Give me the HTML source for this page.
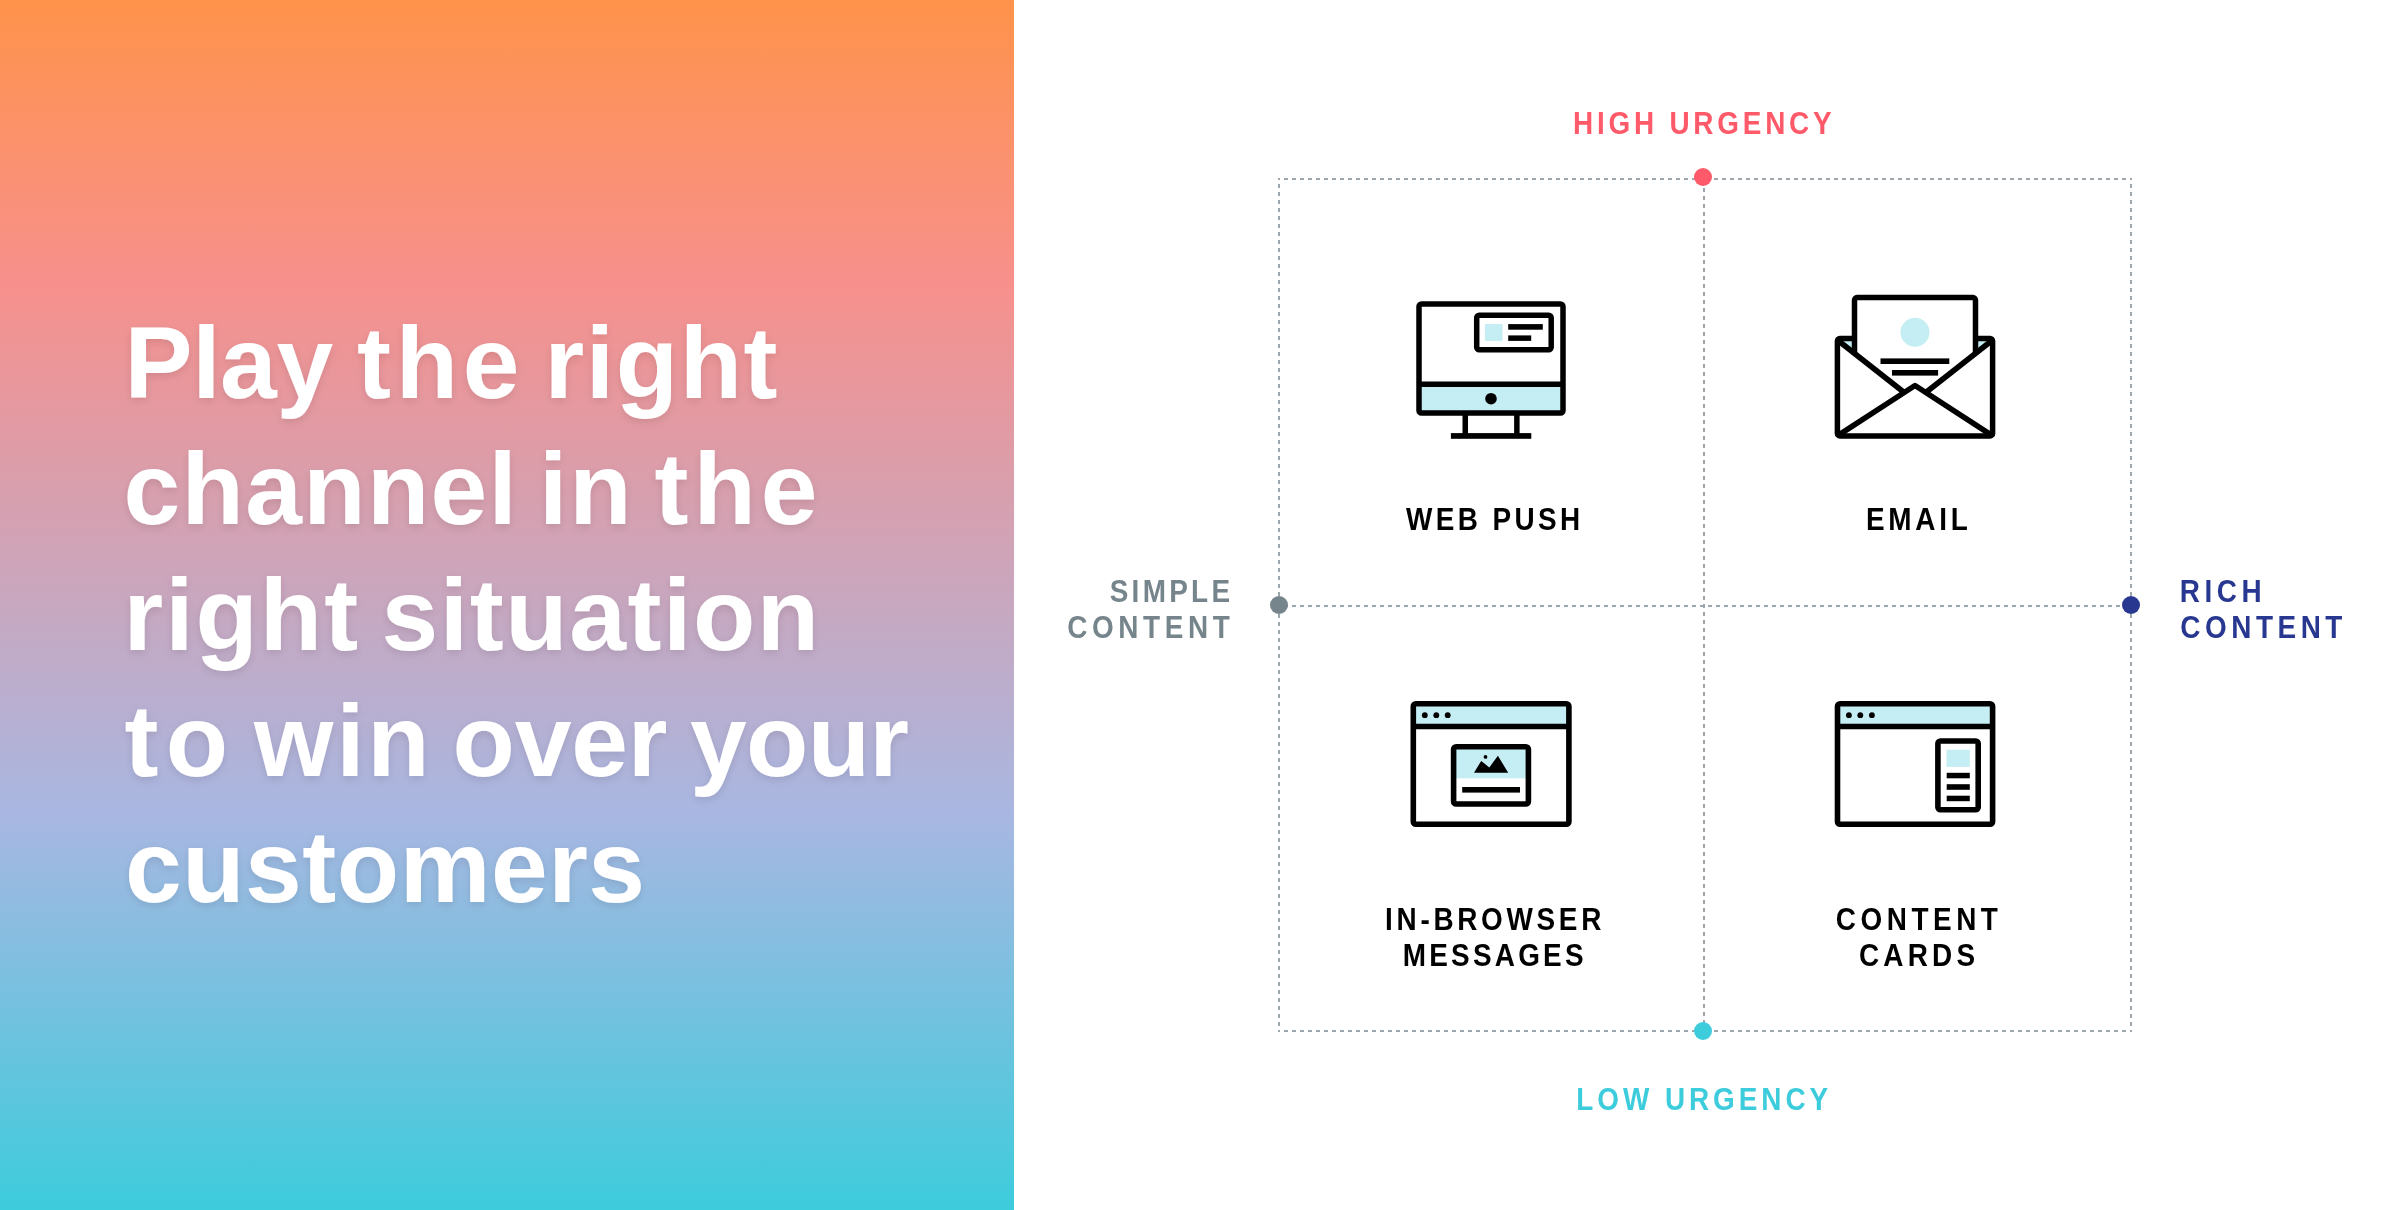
<!DOCTYPE html>
<html>
<head>
<meta charset="utf-8">
<style>
html,body{margin:0;padding:0;}
body{width:2400px;height:1210px;overflow:hidden;background:#fff;position:relative;font-family:"Liberation Sans",sans-serif;}
#left{position:absolute;left:0;top:0;width:1014px;height:1210px;background:linear-gradient(180deg,#FF934B 0%,#F7908C 23.5%,#A8B7E2 67.4%,#3DCCDC 100%);}
svg{position:absolute;left:0;top:0;}
</style>
</head>
<body>
<div id="left"></div>
<svg width="2400" height="1210" viewBox="0 0 2400 1210">
 <defs>
  <filter id="sh" x="-10%" y="-30%" width="120%" height="160%">
   <feGaussianBlur in="SourceAlpha" stdDeviation="4"/>
   <feOffset dy="3"/>
   <feComponentTransfer><feFuncA type="linear" slope="0.11"/></feComponentTransfer>
   <feMerge><feMergeNode/><feMergeNode in="SourceGraphic"/></feMerge>
  </filter>
  <filter id="nf" x="-5%" y="-10%" width="110%" height="120%"><feOffset dx="0" dy="0"/></filter>
 </defs>
 <g font-family="Liberation Sans" font-weight="bold" font-size="102" filter="url(#sh)">
  <text x="124.50" y="398" letter-spacing="-0.400" fill="#fff">Play</text>
  <text x="357.00" y="398" letter-spacing="4.700" fill="#fff">the</text>
  <text x="544.50" y="398" letter-spacing="1.600" fill="#fff">right</text>
  <text x="123.50" y="524" letter-spacing="1.333" fill="#fff">channel</text>
  <text x="539.00" y="524" letter-spacing="2.000" fill="#fff">in</text>
  <text x="654.50" y="524" letter-spacing="5.000" fill="#fff">the</text>
  <text x="123.50" y="650" letter-spacing="2.000" fill="#fff">right</text>
  <text x="381.50" y="650" letter-spacing="1.575" fill="#fff">situation</text>
  <text x="124.50" y="776" letter-spacing="7.400" fill="#fff">to</text>
  <text x="254.00" y="776" letter-spacing="2.800" fill="#fff">win</text>
  <text x="452.50" y="776" letter-spacing="-0.133" fill="#fff">over</text>
  <text x="690.00" y="776" letter-spacing="-0.667" fill="#fff">your</text>
  <text x="125.00" y="902" letter-spacing="0.525" fill="#fff">customers</text>
 </g>
 <!-- grid lines -->
 <g stroke="#9BA6AD" stroke-width="2" stroke-dasharray="4 4" stroke-dashoffset="2" fill="none">
  <path d="M1278,179 H1704 M2132,179 H1704 M1278,1031 H1704 M2132,1031 H1704 M1278,606 H2132"/>
  <path d="M1279,178 V606 M1279,1032 V606 M2131,178 V606 M2131,1032 V606"/>
  <path d="M1704,178 V1032" stroke-dashoffset="6"/>
 </g>
 <circle cx="1703" cy="177" r="9" fill="#FF5A69"/>
 <circle cx="1279" cy="605" r="9" fill="#76858C"/>
 <circle cx="2131" cy="605" r="9" fill="#283891"/>
 <circle cx="1703" cy="1031" r="9" fill="#3DCCDC"/>

 <!-- icon: web push monitor -->
 <g id="ic1">
  <rect x="1419" y="384" width="144" height="29" fill="#C4EEF4"/>
  <rect x="1485" y="324.1" width="17.5" height="16.8" fill="#C4EEF4"/>
  <g fill="none" stroke="#000" stroke-width="5.5" stroke-linejoin="round">
   <rect x="1419" y="304" width="144" height="109" rx="2.5"/>
   <rect x="1476.7" y="315.2" width="74.5" height="34.6" rx="2.5"/>
   <line x1="1419" y1="384.2" x2="1563" y2="384.2"/>
   <line x1="1465.25" y1="413" x2="1465.25" y2="436"/>
   <line x1="1516.85" y1="413" x2="1516.85" y2="436"/>
  </g>
  <rect x="1450.9" y="433.1" width="80.4" height="5.7" fill="#000"/>
  <rect x="1508.2" y="324.1" width="34.6" height="5.6" fill="#000"/>
  <rect x="1508.2" y="335.4" width="23" height="5.5" fill="#000"/>
  <circle cx="1491" cy="398.7" r="5.8" fill="#000"/>
 </g>
 <!-- icon: email -->
 <g id="ic2">
  <polygon points="1837.4,338.5 1854.5,338.5 1854.5,353.7" fill="#C4EEF4"/>
  <polygon points="1992.6,338.5 1975.5,338.5 1975.5,353.7" fill="#C4EEF4"/>
  <circle cx="1915" cy="332.3" r="14.5" fill="#C4EEF4"/>
  <g fill="none" stroke="#000" stroke-width="5.5" stroke-linejoin="round">
   <path d="M1854.5,338.5 H1839.9 A2.5,2.5 0 0 0 1837.4,341 V433.4 A2.5,2.5 0 0 0 1839.9,435.9 H1990.1 A2.5,2.5 0 0 0 1992.6,433.4 V341 A2.5,2.5 0 0 0 1990.1,338.5 H1975.5"/>
   <path d="M1854.5,354.5 V300.1 A2.5,2.5 0 0 1 1857,297.6 H1973 A2.5,2.5 0 0 1 1975.5,300.1 V354.5"/>
   <path d="M1837.4,340 L1904.2,392.5"/>
   <path d="M1992.6,340 L1925.8,392.5"/>
   <path d="M1837.4,435.9 L1915,385.5 L1992.6,435.9"/>
  </g>
  <rect x="1880.5" y="358.4" width="68.8" height="5.6" fill="#000"/>
  <rect x="1892" y="370" width="46.1" height="5.6" fill="#000"/>
 </g>
 <!-- icon: in-browser -->
 <g id="ic3">
  <rect x="1413.3" y="703.7" width="155.6" height="22.8" fill="#C4EEF4"/>
  <rect x="1456" y="749" width="70" height="29.3" fill="#C4EEF4"/>
  <g fill="none" stroke="#000" stroke-width="5.6" stroke-linejoin="round">
   <rect x="1413.3" y="703.7" width="155.6" height="120.5" rx="2.5"/>
   <line x1="1413.3" y1="726.55" x2="1568.9" y2="726.55"/>
   <rect x="1453.6" y="746.7" width="74.8" height="57.3" rx="2.5"/>
  </g>
  <circle cx="1424.8" cy="715.2" r="2.9" fill="#000"/>
  <circle cx="1436.3" cy="715.2" r="2.9" fill="#000"/>
  <circle cx="1447.7" cy="715.2" r="2.9" fill="#000"/>
  <polygon points="1474,772.8 1481.2,760.9 1489.3,767.5 1497.9,755.7 1508.2,772.8" fill="#000"/>
  <circle cx="1485.5" cy="756.9" r="1.9" fill="#000"/>
  <rect x="1462.2" y="787" width="57.8" height="5.6" fill="#000"/>
 </g>
 <!-- icon: content cards -->
 <g id="ic4">
  <rect x="1837.5" y="703.7" width="155.1" height="22.8" fill="#C4EEF4"/>
  <rect x="1946.5" y="749.75" width="23.3" height="17.15" fill="#C4EEF4"/>
  <g fill="none" stroke="#000" stroke-width="5.6" stroke-linejoin="round">
   <rect x="1837.5" y="703.7" width="155.1" height="120.5" rx="2.5"/>
   <line x1="1837.5" y1="726.55" x2="1992.6" y2="726.55"/>
   <rect x="1937.9" y="741" width="40.3" height="68.8" rx="2.5"/>
  </g>
  <circle cx="1848.9" cy="715.2" r="2.9" fill="#000"/>
  <circle cx="1860.3" cy="715.2" r="2.9" fill="#000"/>
  <circle cx="1871.9" cy="715.2" r="2.9" fill="#000"/>
  <rect x="1946.7" y="772.8" width="23.1" height="5.5" fill="#000"/>
  <rect x="1946.7" y="784.2" width="23.1" height="5.6" fill="#000"/>
  <rect x="1946.7" y="795.7" width="23.1" height="5.5" fill="#000"/>
 </g>


 <g font-family="Liberation Sans" font-weight="bold" font-size="31" filter="url(#nf)">
  <text transform="translate(1573.10,134) scale(0.9,1)" letter-spacing="4.193" fill="#FF5A69">HIGH URGENCY</text>
  <text transform="translate(1576.30,1110) scale(0.9,1)" letter-spacing="4.389" fill="#3DCCDC">LOW URGENCY</text>
  <text transform="translate(1109.70,602) scale(0.9,1)" letter-spacing="3.660" fill="#76858C">SIMPLE</text>
  <text transform="translate(1067.20,638) scale(0.9,1)" letter-spacing="5.137" fill="#76858C">CONTENT</text>
  <text transform="translate(2179.70,602) scale(0.9,1)" letter-spacing="5.056" fill="#283891">RICH</text>
  <text transform="translate(2180.25,638) scale(0.9,1)" letter-spacing="5.056" fill="#283891">CONTENT</text>
  <text transform="translate(1406.00,530) scale(0.9,1)" letter-spacing="3.789" fill="#000">WEB PUSH</text>
  <text transform="translate(1866.00,530) scale(0.9,1)" letter-spacing="4.167" fill="#000">EMAIL</text>
  <text transform="translate(1385.10,930) scale(0.9,1)" letter-spacing="4.117" fill="#000">IN-BROWSER</text>
  <text transform="translate(1402.70,966) scale(0.9,1)" letter-spacing="3.614" fill="#000">MESSAGES</text>
  <text transform="translate(1835.70,930) scale(0.9,1)" letter-spacing="5.074" fill="#000">CONTENT</text>
  <text transform="translate(1859.00,966) scale(0.9,1)" letter-spacing="4.694" fill="#000">CARDS</text>
 </g>
</svg>
</body>
</html>
